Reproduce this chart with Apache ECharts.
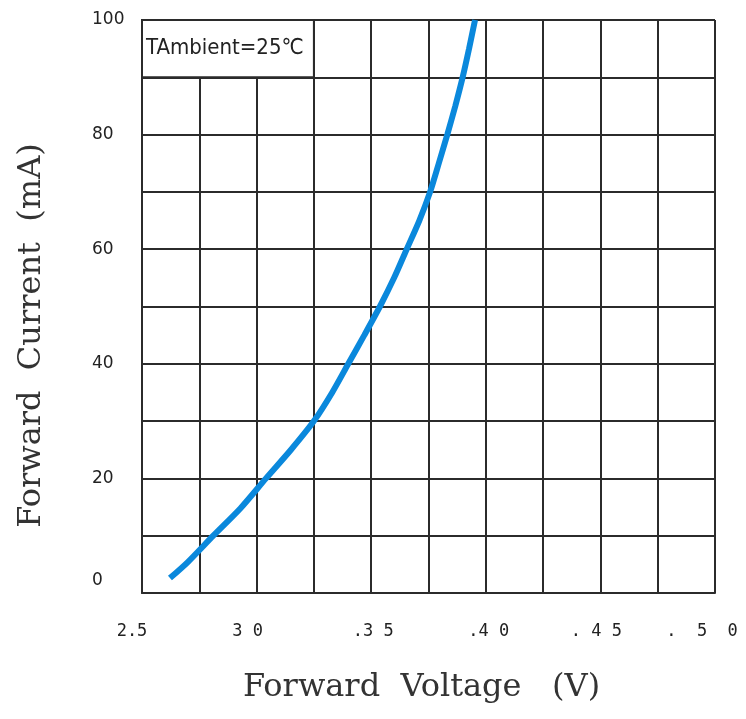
<!DOCTYPE html>
<html>
<head>
<meta charset="utf-8">
<script src="https://cdn.jsdelivr.net/npm/echarts@6/dist/echarts.min.js"></script>
<style>
html,body{margin:0;padding:0;background:#fff;}
#chart{width:746px;height:719px;}
</style>
</head>
<body>
<div id="chart"></div>
<script>
// Forward voltage (V) vs forward current (mA)
const voltage = [2.622, 2.70, 2.811, 2.93, 3.041, 3.15, 3.25, 3.33, 3.40, 3.47, 3.538, 3.60, 3.655, 3.71, 3.757, 3.795, 3.832, 3.867, 3.899, 3.927, 3.953];
const current = [2.6, 5.4, 10, 14.8, 20, 25, 30, 35, 40, 45, 50, 55, 60, 65, 70, 75, 80, 85, 90, 95, 100];
const xTickValues = ['2.5', '3', '3.5', '4', '4.5', '5'];
const xTickTexts = ['2.5', '3 0', '.3 5', '.4 0', '. 4 5', '.  5  0'];
const yTickValues = ['0', '20', '40', '60', '80', '100'];
const yTickTexts = ['0', '20', '40', '60', '80', '100'];
const annotation = 'TAmbient=25℃';

// label nudges (style only)
const xShift = [-10, -9, 2, 3, -4, -13];
const xRich = {};
xShift.forEach((s, i) => {
  xRich['x' + i] = {fontFamily: "'DejaVu Sans Mono', monospace", fontSize: 17, color: '#222',
    padding: s < 0 ? [0, -2 * s, 0, 0] : [0, 0, 0, 2 * s]};
});
const yRich = {
  y0: {fontFamily: "'DejaVu Sans', sans-serif", fontSize: 17, color: '#222', padding: [0, 0, 24, 0]},
  yn: {fontFamily: "'DejaVu Sans', sans-serif", fontSize: 17, color: '#222'}
};

const chart = echarts.init(document.getElementById('chart'));
const gridColor = '#2b2b2b';
const titleFont = "'DejaVu Serif', 'Liberation Serif', serif";
chart.setOption({
  animation: false,
  backgroundColor: '#fff',
  grid: {left: 142, right: 31, top: 20, bottom: 126},
  xAxis: {
    type: 'value', min: 2.5, max: 5.0, interval: 0.25,
    name: 'Forward  Voltage   (V)', nameLocation: 'middle', nameGap: 79,
    nameTextStyle: {fontFamily: titleFont, fontSize: 32, color: '#333', padding: [0, 14, 0, 0]},
    axisLine: {show: true, lineStyle: {color: gridColor, width: 2}},
    axisTick: {show: false},
    splitLine: {show: true, lineStyle: {color: gridColor, width: 2}},
    axisLabel: {
      margin: 30, rich: xRich,
      formatter: v => {
        const i = xTickValues.indexOf(String(+v.toFixed(2)));
        return i < 0 ? '' : '{x' + i + '|' + xTickTexts[i] + '}';
      }
    }
  },
  yAxis: {
    type: 'value', min: 0, max: 100, interval: 10,
    name: 'Forward  Current  (mA)', nameLocation: 'middle', nameGap: 94, nameRotate: 90,
    nameTextStyle: {fontFamily: titleFont, fontSize: 32, color: '#333', padding: [0, 58, 0, 0]},
    axisLine: {show: true, lineStyle: {color: gridColor, width: 2}},
    axisTick: {show: false},
    splitLine: {show: true, lineStyle: {color: gridColor, width: 2}},
    axisLabel: {
      margin: 50, align: 'left', rich: yRich,
      formatter: v => {
        const i = yTickValues.indexOf(String(v));
        if (i < 0) return '';
        return (i === 0 ? '{y0|' : '{yn|') + yTickTexts[i] + '}';
      }
    }
  },
  series: [{
    type: 'line',
    data: voltage.map((v, i) => [v, current[i]]),
    smooth: 0.25,
    showSymbol: false,
    lineStyle: {color: '#0a88dc', width: 6},
    z: 3,
    markArea: {
      silent: true,
      itemStyle: {color: '#fff', borderColor: gridColor, borderWidth: 2},
      label: {show: true, position: 'insideLeft', distance: 5,
        fontFamily: "'Liberation Sans Narrow', 'DejaVu Sans Condensed', sans-serif", fontSize: 22, color: '#222'},
      data: [[{xAxis: 2.5, yAxis: 90, name: annotation}, {xAxis: 3.25, yAxis: 100}]]
    }
  }]
});
</script>
</body>
</html>
